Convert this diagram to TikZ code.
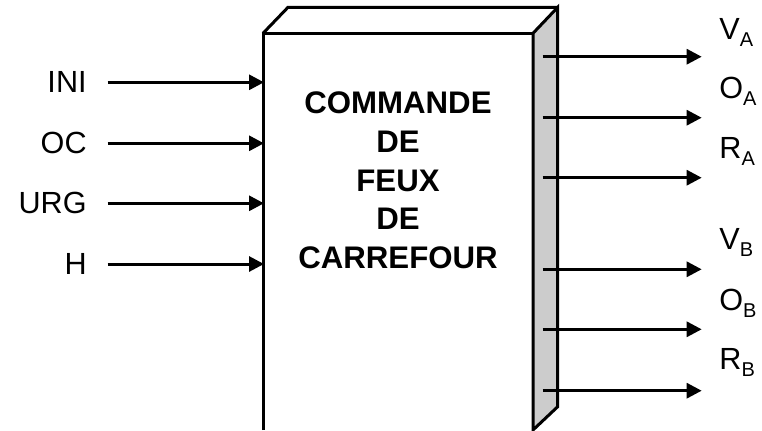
\documentclass[tikz,border=0pt]{standalone}
\usepackage{fontspec}
\setmainfont{Liberation Sans}
\usetikzlibrary{arrows.meta,positioning,calc}
\definecolor{sidegray}{HTML}{CCCCCC}
\newcommand{\feuidx}[1]{\raisebox{-3.9pt}{\fontsize{10}{12}\selectfont #1}}

\begin{document}
\begin{tikzpicture}[
  x=0.5pt,y=-0.5pt,
  >={Triangle[length=7.5pt,width=7.5pt]},
  lbl/.style={font=\fontsize{15.3}{18}\selectfont, inner sep=0pt},
  ttl/.style={font=\fontsize{15.6}{19.35}\selectfont\bfseries, align=center, inner sep=0pt},
  edge/.style={line width=1.5pt, line join=miter},
  sig/.style={->, line width=1.5pt},
]
\useasboundingbox (0,0) rectangle (762,430);
% block (cut off at the bottom)
\coordinate (fbl) at (263,430); \coordinate (ftl) at (263,33.3);
\coordinate (ftr) at (533,33.3); \coordinate (fbr) at (533,430);
\coordinate (btl) at (288,7.3); \coordinate (btr) at (557.7,7.3); \coordinate (bbr) at (557.7,406.7);
\filldraw[edge,fill=sidegray] (ftr) -- (btr) -- (bbr) -- (fbr) -- cycle;
\draw[edge] (fbl) -- (ftl) -- (ftr);
\draw[edge] (ftl) -- (btl) -- (btr);
\node[ttl,anchor=north] (title) at (398,91.5) {COMMANDE\\DE\\FEUX\\DE\\CARREFOUR};
% inputs
\foreach \n/\t/\y in {ini/INI/82.3,oc/OC/143.3,urg/URG/203.3,h/H/264} {
  \node[lbl,anchor=east] (\n) at (87,\y) {\t};
  \coordinate (\n-e) at (264,\y);
  \draw[sig,shorten <=10.3pt] (\n.east) -- (\n-e);
}
% outputs
\foreach \n/\l/\i/\y/\b in {va/V/A/56.7/39,oa/O/A/117.7/98,ra/R/A/177.7/158,vb/V/B/269.3/249,ob/O/B/329.3/310,rb/R/B/390.7/369} {
  \coordinate (\n-s) at (542.7,\y); \coordinate (\n-e) at (701.7,\y);
  \draw[sig] (\n-s) -- (\n-e);
  \node[lbl,anchor=base west] (\n) at (719,\b) {\l\feuidx{\i}};
}
\end{tikzpicture}
\end{document}
